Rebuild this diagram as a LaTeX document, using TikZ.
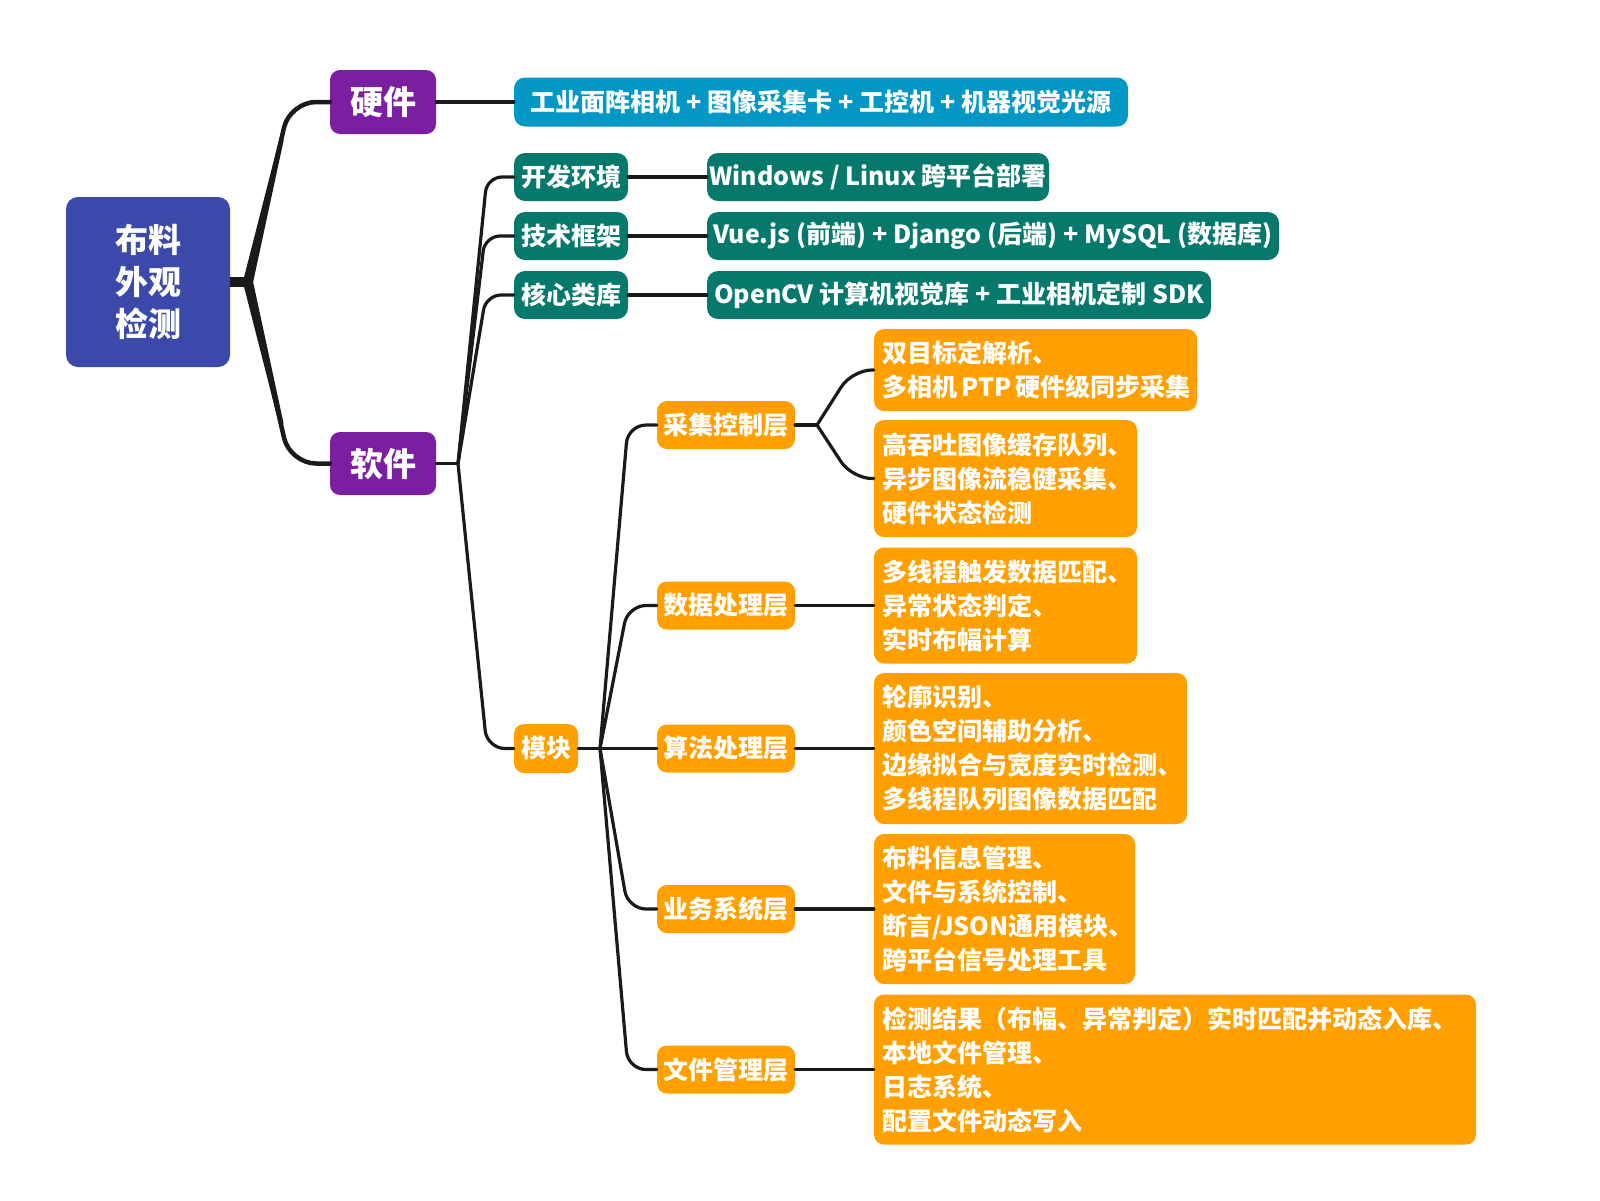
\documentclass[tikz,border=0pt]{standalone}
\usepackage{fontspec}
\setmainfont{Noto Sans CJK SC}
\definecolor{cRoot}{HTML}{3B49AB}
\definecolor{cPurple}{HTML}{7B1FA2}
\definecolor{cBlue}{HTML}{0397C5}
\definecolor{cTeal}{HTML}{07796C}
\definecolor{cOrange}{HTML}{FFA000}
\definecolor{cLine}{HTML}{1A1A1A}
\newcommand\mysp{\hspace*{4.5pt}}
\tikzset{
  box/.style={rounded corners=9pt, text=white, inner sep=0pt, align=center,
    font=\bfseries\fontsize{25}{34}\selectfont},
  rootbox/.style={box, fill=cRoot, rounded corners=12pt, font=\bfseries\fontsize{33}{42}\selectfont},
  purpbox/.style={box, fill=cPurple, rounded corners=10pt, font=\bfseries\fontsize{33}{40}\selectfont},
  bluebox/.style={box, fill=cBlue, rounded corners=11pt},
  tealbox/.style={box, fill=cTeal, rounded corners=11pt},
  orabox/.style={box, fill=cOrange, rounded corners=10pt},
  leafbox/.style={box, fill=cOrange, rounded corners=10pt, align=left, inner xsep=8pt},
  conA/.style={draw=cLine, line width=5pt, line cap=round},
  conB/.style={draw=cLine, line width=3.2pt, line cap=round},
}
\begin{document}
\begin{tikzpicture}[x=1pt,y=-1pt]
\useasboundingbox (0,0) rectangle (1600,1200);

% nodes
\node[rootbox, minimum width=164pt, minimum height=170pt] (root) at (148,282) {布料\\外观\\检测};
\node[purpbox, minimum width=106pt, minimum height=64pt] (hw) at (383,102) {硬件};
\node[purpbox, minimum width=106pt, minimum height=63pt] (sw) at (383,463.5) {软件};

\node[bluebox, minimum width=614pt, minimum height=49pt] (hwleaf) at (821,102) {工业面阵相机 + 图像采集卡 + 工控机 + 机器视觉光源};

\node[tealbox, minimum width=114pt, minimum height=48pt] (dev) at (571,177) {开发环境};
\node[tealbox, minimum width=114pt, minimum height=48pt] (tech) at (571,236) {技术框架};
\node[tealbox, minimum width=114pt, minimum height=48pt] (core) at (571,295) {核心类库};

\node[tealbox, minimum width=342pt, minimum height=48pt] (win) at (878,177) {Windows / Linux 跨平台部署};
\node[tealbox, minimum width=572pt, minimum height=48pt] (vue) at (993,236) {Vue.js (前端) + Django (后端) + MySQL (数据库)};
\node[tealbox, minimum width=504pt, minimum height=48pt] (cv) at (959,295) {OpenCV 计算机视觉库 + 工业相机定制 SDK};

\node[orabox, minimum width=64pt, minimum height=49pt] (mod) at (546,748.5) {模块};

\node[orabox, minimum width=138pt, minimum height=48pt] (acq) at (726,425) {采集控制层};
\node[orabox, minimum width=138pt, minimum height=48pt] (data) at (726,605.5) {数据处理层};
\node[orabox, minimum width=138pt, minimum height=48pt] (algo) at (726,748.5) {算法处理层};
\node[orabox, minimum width=138pt, minimum height=48pt] (biz) at (726,909) {业务系统层};
\node[orabox, minimum width=138pt, minimum height=48pt] (file) at (726,1069.5) {文件管理层};

\node[leafbox, text width=307pt, minimum height=82pt] (a1) at (1035.5,370) {双目标定解析、\\\mbox{多相机\mysp PTP\mysp 硬件级同步采集}};
\node[leafbox, text width=247pt, minimum height=117pt] (a2) at (1005.5,478.5) {高吞吐图像缓存队列、\\异步图像流稳健采集、\\硬件状态检测};
\node[leafbox, text width=247pt, minimum height=116pt] (b1) at (1005.5,605.5) {多线程触发数据匹配、\\异常状态判定、\\实时布幅计算};
\node[leafbox, text width=297pt, minimum height=151pt] (c1) at (1030.5,748.5) {轮廓识别、\\颜色空间辅助分析、\\边缘拟合与宽度实时检测、\\多线程队列图像数据匹配};
\node[leafbox, text width=245pt, minimum height=150pt] (d1) at (1004.5,909) {布料信息管理、\\文件与系统控制、\\断言/JSON通用模块、\\跨平台信号处理工具};
\node[leafbox, text width=586pt, minimum height=150pt] (e1) at (1175,1069.5) {检测结果（布幅、异常判定）实时匹配并动态入库、\\本地文件管理、\\日志系统、\\配置文件动态写入};

% junction coordinates
\coordinate (j0) at (248,282);
\coordinate (j1) at (458,463.5);
\coordinate (j2) at (600,748.5);
\coordinate (j3) at (817,425);

% root connectors
\draw[draw=cLine, line width=10pt] (root.east) -- (j0);
\fill[cLine] (252.9,283.1) -- (243.1,280.9) -- (279.2,139.5) -- (283.6,140.5) -- cycle;
\fill[cLine] (252.9,280.9) -- (243.1,283.1) -- (279.2,424.5) -- (283.6,423.5) -- cycle;
\draw[conA, line width=4.5pt, rounded corners=26pt] (j0) -- (290,102) -- (hw.west);
\draw[conA, line width=4.5pt, rounded corners=26pt] (j0) -- (290,463.5) -- (sw.west);

% hardware
\draw[conB] (hw.east) -- (hwleaf.west);

% software
\draw[conB] (sw.east) -- (j1);
\draw[conB, rounded corners=15pt] (j1) -- (487,177) -- (dev.west);
\draw[conB, rounded corners=15pt] (j1) -- (485,236) -- (tech.west);
\draw[conB, rounded corners=15pt] (j1) -- (486,295) -- (core.west);
\draw[conB, rounded corners=18pt] (j1) -- (487,748.5) -- (mod.west);

\draw[conB] (dev.east) -- (win.west);
\draw[conB] (tech.east) -- (vue.west);
\draw[conB] (core.east) -- (cv.west);

% module
\draw[conB] (mod.east) -- (j2);
\draw[conB, rounded corners=18pt] (j2) -- (628,425) -- (acq.west);
\draw[conB, rounded corners=18pt] (j2) -- (628,605.5) -- (data.west);
\draw[conB] (j2) -- (algo.west);
\draw[conB, rounded corners=18pt] (j2) -- (628,909) -- (biz.west);
\draw[conB, rounded corners=18pt] (j2) -- (628,1069.5) -- (file.west);

% acquisition
\draw[conB] (acq.east) -- (j3);
\draw[conB, rounded corners=20pt] (j3) -- (852,370) -- (a1.west);
\draw[conB, rounded corners=20pt] (j3) -- (852,478.5) -- (a2.west);

\draw[conB] (data.east) -- (b1.west);
\draw[conB] (algo.east) -- (c1.west);
\draw[conB] (biz.east) -- (d1.west);
\draw[conB] (file.east) -- (e1.west);
\end{tikzpicture}
\end{document}
